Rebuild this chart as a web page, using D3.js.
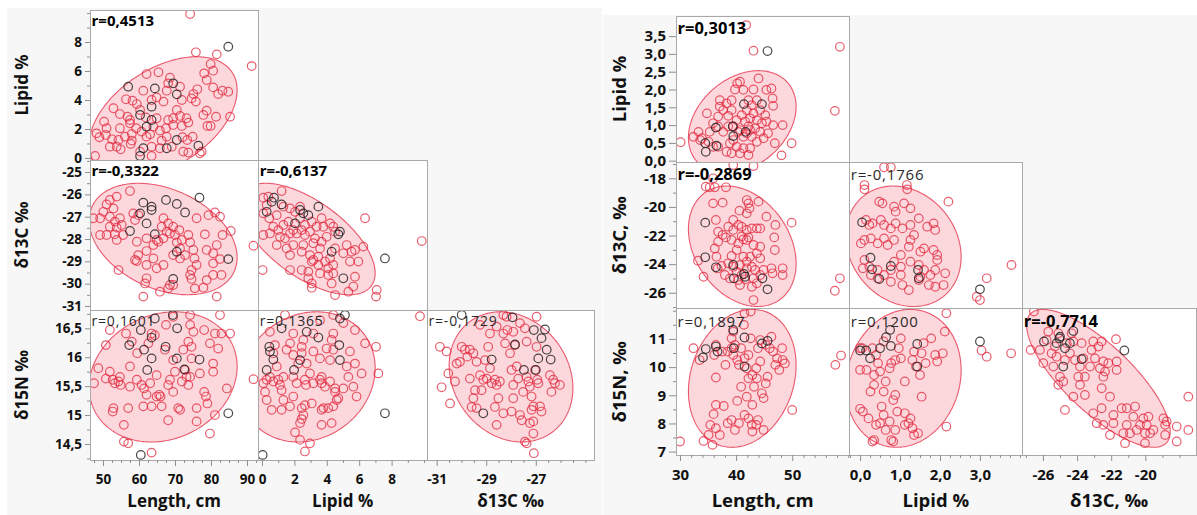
<!DOCTYPE html>
<html>
<head>
<meta charset="utf-8">
<script src="https://cdn.jsdelivr.net/npm/d3@7"></script>
<style>
  body { margin: 0; background: #fff; }
  svg { display: block; }
  text { font-family: "Open Sans", "Noto Sans", sans-serif; }
</style>
</head>
<body>
<svg id="chart" width="1197" height="515"></svg>
<script>
// ---------------------------------------------------------------
// Scatterplot matrices: Length, Lipid, δ13C, δ15N for two samples.
// Each cell: [x, y] pairs; "Dark" arrays are the highlighted fish.
// ---------------------------------------------------------------

// ---- Sample A (left matrix) ----
const aLenLip = [[74.2,9.93],[75.8,7.29],[81.6,7.15],[91.3,6.34],[79.9,6.48],[78.1,5.84],[80.6,6.02],[62.1,5.79],[65.4,5.91],[68.6,5.54],[68.1,5.15],[71.4,4.92],[61.2,4.64],[67.7,4.64],[75.1,4.41],[76.2,4.74],[80.6,4.87],[83.2,4.64],[84.8,4.57],[82.0,4.41],[64.9,4.18],[71.9,4.0],[52.9,3.43],[56.4,4.05],[58.2,3.95],[59.4,3.72],[66.8,3.89],[74.6,4.11],[75.8,3.89],[70.5,3.31],[78.8,3.26],[77.9,2.97],[54.7,3.03],[56.8,2.85],[57.5,2.62],[61.9,2.8],[64.9,2.74],[68.1,2.62],[71.4,2.9],[73.2,2.74],[81.4,2.85],[85.3,2.85],[50.3,2.51],[48.2,1.7],[51.0,2.05],[54.7,2.05],[57.5,2.39],[59.2,2.05],[64.0,2.16],[65.8,1.89],[67.5,2.05],[69.5,2.28],[71.9,2.21],[73.7,2.44],[79.0,2.21],[79.9,2.21],[49.0,1.43],[50.8,1.59],[52.5,1.29],[54.3,1.24],[56.1,1.47],[58.0,1.2],[62.1,1.47],[63.1,1.63],[66.3,1.2],[67.7,1.47],[72.1,1.43],[73.4,1.24],[74.9,1.47],[51.9,0.78],[53.8,0.78],[54.9,0.6],[57.7,0.97],[60.3,0.44],[63.5,0.78],[65.8,0.67],[69.1,0.78],[72.3,0.44],[73.7,0.37],[77.4,0.44],[47.8,0.14],[63.5,0.14],[58.0,1.66],[60.7,1.82],[76.9,0.32],[69.5,2.74],[63.5,4.0],[60.3,3.31],[78.8,5.38]];
const aLenLipDark = [[57.0,4.92],[64.4,4.8],[69.5,5.15],[70.5,4.39],[63.5,3.54],[60.3,2.97],[63.5,2.62],[62.1,2.16],[70.5,1.24],[61.2,0.67],[67.7,0.67],[76.5,0.85],[60.3,0.14],[84.8,7.68]];

const aLenC13 = [[57.5,-25.85],[53.8,-26.10],[51.9,-26.25],[51.0,-26.45],[52.9,-26.63],[50.1,-26.78],[47.3,-27.07],[49.2,-27.07],[51.9,-27.0],[53.3,-27.22],[54.7,-27.07],[55.2,-27.37],[53.8,-27.49],[58.4,-26.85],[58.9,-27.15],[59.8,-26.93],[51.9,-27.45],[53.3,-27.79],[49.2,-27.82],[51.0,-27.82],[53.8,-28.04],[55.6,-27.82],[59.4,-28.12],[62.1,-27.97],[64.0,-28.27],[64.9,-28.04],[58.9,-28.94],[59.4,-28.99],[54.3,-29.39],[62.1,-28.54],[65.4,-28.12],[66.8,-27.97],[66.8,-27.07],[68.1,-27.30],[66.3,-27.45],[67.7,-27.67],[68.6,-27.75],[69.5,-27.45],[70.0,-27.82],[71.2,-27.60],[70.5,-28.15],[71.9,-28.04],[73.7,-27.82],[74.2,-28.15],[71.4,-28.42],[69.5,-28.72],[72.8,-28.72],[71.4,-28.87],[75.1,-28.49],[75.4,-28.87],[76.0,-29.16],[74.6,-29.39],[74.2,-29.61],[74.6,-29.79],[75.5,-30.21],[77.9,-30.18],[78.8,-29.84],[80.6,-29.61],[82.9,-29.61],[80.6,-29.09],[82.5,-28.90],[80.6,-28.64],[78.8,-28.49],[81.6,-28.27],[83.2,-27.82],[85.5,-27.64],[78.3,-27.79],[76.0,-27.07],[79.3,-26.93],[81.1,-26.81],[82.5,-27.0],[91.8,-28.30],[81.6,-30.58],[61.2,-30.58],[62.1,-29.76],[61.7,-29.99],[64.9,-29.31],[66.8,-29.16],[68.6,-30.06],[68.1,-30.21],[69.5,-30.06],[65.8,-30.36],[62.1,-29.16],[59.8,-28.72],[64.0,-28.87]];
const aLenC13Dark = [[61.2,-26.37],[63.5,-26.55],[63.5,-26.70],[60.3,-26.85],[62.1,-27.30],[57.5,-27.64],[64.4,-27.78],[67.5,-26.25],[70.5,-26.43],[72.8,-26.81],[76.8,-26.15],[70.5,-28.57],[84.8,-28.90],[69.5,-29.79]];

const aLipC13 = [[1.21,-25.85],[0.39,-26.10],[0.08,-26.15],[0.04,-29.39],[0.29,-26.48],[0.08,-26.85],[0.45,-27.07],[0.91,-26.93],[1.32,-26.55],[1.73,-26.63],[2.04,-26.78],[2.35,-26.55],[0.70,-27.45],[1.01,-27.60],[1.32,-27.37],[1.63,-27.22],[1.93,-27.60],[2.35,-27.07],[2.65,-27.37],[3.07,-27.22],[3.37,-27.45],[3.68,-27.07],[3.79,-27.45],[4.20,-27.30],[4.40,-27.45],[0.08,-27.82],[0.49,-27.75],[1.11,-27.90],[1.42,-27.97],[1.73,-27.75],[2.14,-27.75],[2.45,-27.60],[2.65,-27.82],[2.96,-27.67],[3.27,-27.97],[3.68,-28.12],[3.99,-27.90],[4.51,-27.67],[0.91,-28.27],[1.52,-28.42],[1.93,-28.27],[2.55,-28.27],[3.17,-28.19],[3.58,-28.42],[1.73,-28.72],[2.45,-28.57],[2.96,-28.72],[3.17,-28.94],[3.48,-28.79],[3.89,-29.01],[4.20,-28.87],[4.40,-29.16],[4.09,-29.31],[3.48,-29.16],[3.07,-29.01],[2.45,-29.39],[2.86,-29.46],[3.58,-29.54],[4.09,-29.61],[4.40,-29.54],[2.86,-29.76],[3.07,-29.99],[3.07,-30.18],[4.30,-29.99],[4.51,-30.51],[5.33,-30.36],[5.64,-30.13],[5.74,-29.69],[5.95,-29.01],[5.53,-28.57],[5.74,-28.49],[6.26,-28.34],[6.36,-27.07],[7.08,-30.28],[7.04,-30.58],[9.86,-28.09],[4.51,-28.42],[5.02,-28.64],[5.23,-28.27],[1.73,-29.39],[5.43,-29.01]];
const aLipC13Dark = [[0.74,-26.15],[0.60,-26.33],[1.21,-26.45],[0.29,-26.78],[2.35,-26.70],[2.55,-26.85],[2.86,-26.93],[3.48,-26.55],[2.04,-27.30],[4.81,-27.67],[4.71,-27.79],[4.30,-28.57],[5.02,-29.76],[7.59,-28.87]];

const aLenN15 = [[47.5,15.55],[48.7,15.81],[50.8,16.21],[50.8,15.63],[51.9,16.47],[51.9,15.75],[52.7,15.61],[52.9,15.12],[52.7,15.06],[53.3,15.55],[54.3,15.58],[54.7,15.66],[54.9,15.52],[55.8,14.83],[55.8,14.54],[57.0,14.51],[57.0,15.12],[57.5,15.49],[57.5,15.84],[58.0,16.27],[56.4,16.41],[59.4,15.61],[59.5,16.07],[60.7,15.52],[61.2,15.15],[61.4,15.46],[62.1,15.35],[63.1,15.55],[63.5,15.15],[62.6,16.24],[63.5,16.41],[64.4,16.38],[64.9,15.69],[64.9,15.32],[66.0,15.32],[65.6,15.35],[66.3,15.15],[67.2,16.13],[67.5,16.56],[68.1,14.91],[68.1,15.52],[68.6,15.61],[69.5,15.40],[69.5,15.95],[70.0,15.75],[70.9,15.12],[71.4,15.09],[71.9,15.58],[72.8,15.78],[73.2,15.66],[73.7,15.52],[74.2,16.73],[74.2,15.66],[73.7,16.27],[74.6,16.18],[74.6,15.98],[76.0,15.12],[76.0,14.89],[76.9,15.72],[78.1,16.47],[78.1,15.40],[78.6,15.32],[79.0,15.20],[79.7,16.24],[80.6,15.89],[80.6,15.75],[81.1,16.41],[81.1,15.00],[79.7,14.68],[82.0,16.15],[82.5,16.73],[82.9,16.41],[84.4,15.46],[85.3,16.41],[91.8,15.62],[69.5,16.70],[63.5,14.35],[74.2,16.56],[75.1,16.44],[72.3,16.13]];
const aLenN15Dark = [[60.5,16.47],[57.3,16.21],[61.4,16.13],[63.5,16.34],[64.4,16.67],[69.4,16.73],[70.6,16.50],[67.4,16.18],[63.5,15.98],[62.3,15.78],[70.5,15.98],[72.6,15.79],[76.8,15.96],[84.8,15.03],[60.5,14.31]];

const aLipN15 = [[0.08,15.55],[0.19,15.40],[0.29,15.61],[0.49,15.66],[0.70,15.58],[0.91,15.84],[1.01,15.61],[1.11,15.52],[1.32,15.66],[1.21,15.43],[0.60,15.09],[1.21,15.09],[1.32,15.26],[0.49,16.44],[0.80,16.21],[0.70,16.07],[1.52,16.13],[1.73,16.24],[1.93,16.04],[2.45,16.18],[2.24,15.89],[2.45,16.07],[1.93,15.66],[1.93,15.32],[1.73,15.15],[2.14,15.55],[2.65,15.61],[2.72,15.52],[2.96,15.72],[3.17,15.55],[3.58,15.61],[3.68,15.66],[3.68,15.55],[3.89,15.49],[4.20,15.58],[4.51,15.46],[4.51,15.40],[4.61,15.26],[4.71,15.29],[4.40,15.15],[4.09,15.12],[3.79,15.12],[3.68,15.09],[3.07,15.20],[2.65,15.17],[2.45,15.12],[2.55,15.00],[2.45,14.93],[2.35,14.86],[2.04,14.70],[2.35,14.57],[2.65,14.37],[2.96,14.51],[3.68,14.83],[4.30,14.86],[5.02,15.46],[5.64,15.49],[5.84,15.32],[6.15,15.72],[5.74,15.89],[5.43,16.10],[5.74,16.47],[5.02,16.59],[4.30,16.30],[3.99,16.15],[3.58,15.98],[4.40,16.41],[6.36,16.24],[7.04,16.18],[7.18,15.72],[4.40,16.13],[3.17,16.41],[2.55,16.30],[1.93,16.41],[3.58,16.64],[4.40,16.73],[3.17,16.10],[2.76,15.89],[4.20,15.95],[1.42,16.73],[5.23,15.84],[5.33,15.66],[0.29,15.26],[9.75,16.71]];
const aLipN15Dark = [[0.04,14.31],[0.45,16.18],[0.49,16.10],[0.70,15.96],[0.29,15.78],[1.21,16.50],[1.98,15.78],[2.35,15.95],[2.76,16.44],[3.48,16.34],[4.81,15.95],[4.77,16.21],[4.81,16.67],[5.12,16.73],[7.59,15.03]];

const aC13N15 = [[-30.87,16.18],[-30.60,16.10],[-30.80,15.48],[-30.46,15.20],[-30.53,15.72],[-30.26,15.58],[-30.19,15.89],[-30.06,15.92],[-29.99,16.18],[-29.86,16.13],[-29.76,16.01],[-29.66,16.13],[-29.52,16.07],[-29.39,15.92],[-29.66,15.63],[-29.45,15.43],[-29.52,15.29],[-29.59,15.14],[-29.39,15.12],[-29.19,15.43],[-29.25,15.69],[-29.12,15.61],[-28.98,15.63],[-29.05,15.95],[-28.92,16.18],[-28.58,16.53],[-28.85,16.41],[-28.78,15.55],[-28.65,15.61],[-28.58,15.52],[-28.51,15.29],[-28.65,15.14],[-28.58,14.83],[-28.31,15.03],[-28.45,15.58],[-28.31,16.41],[-28.24,16.24],[-28.18,16.70],[-28.15,16.47],[-28.04,16.07],[-27.91,16.44],[-27.84,16.21],[-27.98,15.78],[-27.91,15.52],[-27.91,15.29],[-27.98,15.06],[-27.77,15.84],[-27.71,15.63],[-27.64,15.00],[-27.57,14.91],[-27.51,15.40],[-27.44,16.50],[-27.37,16.27],[-27.37,15.66],[-27.30,15.58],[-27.24,15.49],[-27.17,15.32],[-27.17,15.09],[-27.10,15.15],[-27.03,15.78],[-26.97,16.18],[-26.94,15.61],[-26.90,15.55],[-26.83,15.15],[-26.77,15.06],[-27.10,14.89],[-27.10,14.68],[-27.44,14.54],[-27.37,14.51],[-27.08,14.34],[-27.24,14.86],[-26.97,16.70],[-26.43,15.69],[-26.30,15.61],[-26.23,15.55],[-26.03,15.52],[-26.37,15.40],[-27.64,16.59],[-28.31,16.73],[-29.25,16.56],[-28.85,15.81]];
const aC13N15Dark = [[-29.99,16.73],[-27.94,16.69],[-27.08,16.47],[-26.63,16.48],[-26.77,16.33],[-26.56,16.13],[-26.40,15.96],[-27.84,16.22],[-26.90,15.98],[-28.78,15.96],[-27.48,15.78],[-27.00,15.78],[-29.12,15.03]];

// variable order: Length, Lipid, δ13C, δ15N
const aMeans = [66.7, 2.8, -28.0, 15.66];
const aSDs = [8.4, 1.71, 1.02, 0.46];
// correlations: (Len,Lip) (Len,C13) (Lip,C13) (Len,N15) (Lip,N15) (C13,N15)
const aR = [0.4513, -0.3322, -0.6137, 0.1601, 0.1365, -0.1729];
const aSignificant = [true, true, true, false, false, false];

// ---- Sample B (right matrix) ----
const bLenLip = [[41.8,3.81],[43.1,3.09],[58.5,3.20],[57.6,1.40],[30.1,0.52],[49.9,0.49],[48.1,0.15],[48.3,1.00],[46.6,1.00],[46.3,2.03],[46.5,1.75],[46.6,1.54],[44.0,2.31],[43.1,2.00],[40.7,2.22],[40.2,2.17],[39.8,2.00],[39.2,1.70],[38.3,1.61],[37.1,1.52],[37.7,1.42],[36.8,1.24],[34.8,1.33],[35.9,1.05],[33.3,0.81],[32.4,0.67],[33.9,0.63],[35.3,0.81],[36.8,0.96],[37.7,0.81],[38.6,0.96],[40.1,1.14],[41.0,1.28],[41.9,1.42],[42.8,1.56],[43.7,1.70],[44.3,1.42],[45.2,1.28],[45.4,1.10],[44.6,1.05],[43.7,1.14],[43.4,0.91],[42.5,0.86],[41.9,0.77],[41.3,0.67],[40.4,0.81],[39.5,0.58],[38.9,0.49],[40.1,0.39],[41.3,0.35],[42.5,0.35],[43.7,0.53],[44.9,0.63],[45.7,0.77],[46.9,0.49],[42.2,0.16],[40.7,0.21],[39.2,0.21],[38.3,0.25],[36.8,0.39],[35.9,0.39],[35.1,0.53],[37.1,1.70],[39.2,1.42],[42.2,1.70],[41.3,1.99],[42.5,1.19],[41.6,1.10],[39.5,0.96],[40.7,0.86],[42.8,0.67],[44.3,0.81],[43.1,1.33],[42.2,0.96],[45.4,1.99],[38.6,1.26],[33.6,0.58]];
const bLenLipDark = [[34.6,0.25],[34.5,0.49],[36.5,0.42],[36.4,0.93],[39.4,0.96],[39.5,0.69],[41.4,1.59],[44.6,1.59],[45.6,3.08],[41.7,0.81]];

const bLenC13 = [[39.5,-17.07],[43.1,-17.14],[35.9,-18.0],[34.6,-18.58],[35.3,-18.63],[36.2,-18.63],[38.2,-18.63],[35.9,-19.75],[37.6,-19.70],[41.9,-19.52],[42.2,-19.75],[42.4,-20.10],[44.0,-19.63],[41.9,-20.45],[40.6,-20.26],[39.5,-20.91],[36.4,-20.91],[38.6,-21.38],[36.8,-21.73],[37.6,-21.96],[38.2,-22.13],[39.5,-21.61],[40.4,-21.26],[41.0,-21.38],[41.9,-21.61],[42.8,-21.50],[43.7,-21.50],[44.3,-21.50],[45.4,-20.68],[47.0,-21.26],[46.8,-22.13],[46.9,-23.01],[49.9,-21.10],[41.0,-22.06],[41.3,-22.27],[41.9,-22.31],[42.2,-22.13],[40.4,-22.55],[39.2,-22.31],[36.8,-22.43],[36.2,-22.90],[43.1,-22.66],[44.3,-22.78],[40.1,-23.01],[39.2,-23.43],[36.5,-23.48],[41.3,-23.48],[42.5,-23.48],[43.7,-23.24],[44.3,-23.59],[41.9,-23.83],[40.7,-24.06],[38.6,-23.94],[37.4,-24.13],[33.2,-23.76],[34.2,-24.88],[36.7,-24.30],[38.0,-24.76],[39.5,-24.18],[40.1,-24.53],[38.9,-25.0],[42.8,-24.18],[43.4,-24.41],[44.3,-24.76],[44.9,-24.41],[46.3,-24.29],[46.5,-24.64],[48.3,-24.29],[48.3,-24.76],[43.1,-24.99],[43.7,-25.34],[42.8,-25.58],[43.1,-26.51],[40.7,-25.46],[40.4,-25.11],[41.6,-25.06],[57.6,-25.86],[58.5,-24.99],[41.9,-24.29],[41.0,-24.76]];
const bLenC13Dark = [[34.5,-21.10],[34.5,-23.52],[36.4,-24.22],[39.5,-24.06],[39.6,-24.99],[41.4,-24.69],[41.6,-24.88],[44.7,-24.99],[45.6,-25.76]];

const bLipC13 = [[0.60,-17.23],[0.77,-17.23],[0.11,-18.47],[0.11,-18.77],[1.17,-18.47],[1.18,-18.77],[2.21,-19.63],[0.48,-19.63],[0.56,-19.75],[0.85,-19.98],[0.89,-20.33],[1.10,-19.75],[1.26,-20.10],[0.15,-20.91],[0.23,-21.26],[0.31,-21.15],[0.52,-20.91],[0.60,-21.26],[0.77,-21.50],[0.89,-21.15],[1.06,-21.50],[1.26,-21.26],[1.47,-20.80],[1.68,-21.38],[1.84,-21.15],[0.11,-22.31],[0.02,-22.55],[0.27,-22.20],[0.44,-22.55],[0.60,-22.20],[0.69,-22.66],[0.85,-22.31],[1.26,-22.31],[1.35,-21.96],[1.22,-22.78],[1.51,-23.13],[1.60,-22.90],[1.88,-21.61],[1.93,-23.36],[1.93,-23.71],[0.07,-24.29],[0.11,-23.71],[0.23,-24.18],[0.44,-24.41],[0.27,-24.76],[0.44,-24.99],[0.60,-24.76],[0.77,-24.41],[0.85,-23.83],[1.02,-24.18],[1.26,-23.83],[1.47,-24.06],[1.60,-24.41],[1.76,-24.76],[1.88,-24.41],[2.13,-24.64],[2.09,-25.46],[1.88,-25.58],[1.72,-25.46],[1.51,-24.88],[1.22,-25.81],[1.06,-25.46],[0.77,-25.23],[2.92,-26.28],[3.17,-24.99],[3.00,-26.51],[3.79,-24.06],[1.84,-23.01],[1.02,-23.36],[1.47,-25.11],[1.02,-24.76]];
const bLipC13Dark = [[0.05,-21.08],[0.26,-23.55],[0.30,-24.36],[0.48,-25.04],[0.77,-24.13],[1.45,-24.41],[1.47,-24.99],[3.00,-25.76]];

const bLenN15 = [[30.0,7.36],[32.4,10.67],[33.5,10.25],[34.2,7.38],[35.1,7.59],[35.8,7.24],[36.0,8.33],[35.4,7.95],[36.4,10.79],[36.4,9.63],[36.4,7.83],[37.1,7.59],[36.4,8.66],[36.1,10.43],[37.5,10.55],[37.8,8.62],[38.1,10.08],[38.5,8.01],[39.2,8.12],[39.2,10.67],[39.2,11.02],[39.5,10.43],[39.8,10.79],[39.8,7.77],[40.5,8.01],[40.5,10.08],[40.9,10.67],[40.9,9.30],[41.4,11.50],[41.5,11.91],[41.5,8.30],[41.9,8.95],[41.5,10.32],[41.9,9.96],[42.2,10.43],[42.6,11.02],[42.8,7.95],[42.9,7.71],[43.2,9.30],[43.6,9.96],[43.7,9.60],[43.9,8.12],[43.9,10.67],[44.3,10.20],[44.6,9.07],[44.9,8.90],[44.9,7.77],[45.3,9.42],[45.6,9.66],[46.0,10.67],[46.3,11.08],[46.6,10.55],[47.0,10.08],[47.3,10.31],[47.7,9.90],[48.2,10.67],[48.3,10.25],[48.7,10.13],[50.0,8.48],[57.7,10.08],[58.7,10.41],[42.6,11.97],[42.2,8.18],[42.2,9.60],[39.5,11.26],[40.2,10.25],[42.9,9.72],[44.3,10.96],[45.3,10.79],[40.2,8.80],[42.9,8.66],[43.6,7.95],[38.5,10.55]];
const bLenN15Dark = [[34.6,10.64],[34.1,10.34],[36.4,10.73],[36.7,10.55],[39.5,11.32],[39.6,10.67],[41.5,11.05],[41.5,10.02],[44.6,10.84],[45.6,10.93]];

const bLipN15 = [[0.0,10.67],[0.0,8.52],[0.0,9.90],[0.05,10.67],[0.07,8.42],[0.16,9.90],[0.21,8.18],[0.31,10.67],[0.26,9.13],[0.35,9.37],[0.35,9.72],[0.45,10.14],[0.40,10.43],[0.50,9.84],[0.59,10.91],[0.59,9.13],[0.64,9.49],[0.54,8.60],[0.59,8.30],[0.50,8.01],[0.40,7.95],[0.64,7.77],[0.74,8.07],[0.78,7.41],[0.35,7.41],[0.31,7.36],[0.74,9.96],[0.78,10.14],[0.88,10.25],[0.97,10.67],[1.02,11.02],[1.02,10.31],[0.88,7.77],[0.93,8.42],[0.83,8.83],[0.88,9.01],[0.83,7.36],[1.12,8.36],[1.12,7.95],[1.21,8.01],[1.26,8.18],[1.31,7.83],[1.35,7.59],[1.45,7.65],[1.12,9.49],[1.31,10.25],[1.35,10.55],[1.40,10.02],[1.50,9.72],[1.54,10.49],[1.59,10.85],[1.64,10.14],[1.54,8.95],[1.78,11.02],[1.88,10.43],[1.93,10.20],[2.07,10.49],[2.12,11.26],[2.16,11.91],[2.16,7.89],[3.04,10.59],[3.17,10.37],[3.78,10.49]];
const bLipN15Dark = [[0.0,10.59],[0.15,10.59],[0.25,10.31],[0.5,10.67],[0.65,11.06],[0.75,11.32],[0.77,10.75],[1.43,10.82],[1.43,10.02],[3.0,10.91]];

const bC13N15 = [[-26.72,10.61],[-26.53,11.97],[-25.98,10.14],[-25.78,10.96],[-25.69,11.26],[-25.49,10.49],[-25.39,10.02],[-25.30,10.73],[-25.20,10.37],[-25.10,11.20],[-25.00,9.66],[-25.10,9.37],[-24.81,9.49],[-24.71,8.48],[-24.71,10.25],[-24.61,10.85],[-24.42,10.49],[-24.32,11.20],[-24.22,10.91],[-24.12,10.25],[-23.93,9.66],[-23.83,10.02],[-23.73,10.85],[-23.63,10.31],[-23.54,9.01],[-23.24,10.02],[-23.15,10.61],[-23.05,10.91],[-22.95,10.31],[-22.75,10.73],[-22.66,9.96],[-22.56,10.91],[-22.46,10.20],[-22.46,9.66],[-22.56,9.25],[-22.36,9.84],[-22.17,10.14],[-22.56,8.54],[-22.85,8.01],[-22.46,7.95],[-22.07,8.95],[-21.87,8.01],[-21.68,10.20],[-21.68,9.90],[-21.72,10.99],[-21.39,8.54],[-21.09,8.54],[-20.60,8.60],[-21.29,7.65],[-20.90,7.65],[-21.19,7.30],[-21.09,7.95],[-20.70,8.24],[-20.31,7.95],[-20.12,8.18],[-20.02,7.65],[-19.92,7.95],[-19.82,8.24],[-20.02,7.30],[-19.72,7.65],[-18.94,8.18],[-18.84,7.95],[-18.84,7.59],[-18.75,8.07],[-18.16,7.89],[-18.16,7.36],[-17.48,8.95],[-17.48,7.77],[-21.87,8.30],[-22.07,7.59],[-20.51,7.77],[-19.53,7.77],[-24.22,8.95],[-23.05,8.36],[-26.18,10.61],[-23.83,9.37],[-23.54,9.66]];
const bC13N15Dark = [[-25.94,10.91],[-25.20,10.85],[-25.04,11.02],[-25.00,11.08],[-24.81,10.02],[-24.71,10.67],[-24.42,10.85],[-24.22,11.28],[-23.73,10.28],[-21.23,10.59]];

const bMeans = [41.1, 1.085, -22.75, 9.6];
const bSDs = [3.92, 0.59, 1.72, 1.0];
const bR = [0.3013, -0.2869, -0.1766, 0.1897, 0.1200, -0.7714];
const bSignificant = [true, true, false, false, false, true];

// ---- tick labels ----
const aLenTicks = [50, 60, 70, 80, 90];
const aLipTicks = [0, 2, 4, 6, 8];
const aC13TicksX = [-31, -29, -27];
const aC13TicksY = [-25, -26, -27, -28, -29, -30, -31];
const aN15Ticks = [14.5, 15, 15.5, 16, 16.5];
const bLenTicks = [30, 40, 50];
const bLipTicksX = [0, 1, 2, 3];
const bLipTicksY = [0, 0.5, 1, 1.5, 2, 2.5, 3, 3.5];
const bC13TicksX = [-26, -24, -22, -20];
const bC13TicksY = [-18, -20, -22, -24, -26];
const bN15Ticks = [7, 8, 9, 10, 11];

const aTitlesX = ["Length, cm", "Lipid %", "δ13C ‰"];
const aTitlesY = ["Lipid %", "δ13C ‰", "δ15N ‰"];
const bTitlesX = ["Length, cm", "Lipid %", "δ13C, ‰"];
const bTitlesY = ["Lipid %", "δ13C, ‰", "δ15N, ‰"];

// ---------------------------------------------------------------
const svg = d3.select("#chart");
const K95 = Math.sqrt(5.991);          // 95% bivariate normal contour
const comma = d => String(d).replace(".", ",");
const comma1 = d => d3.format(".1f")(d).replace(".", ",");

// panel backgrounds
svg.append("rect").attr("x", 7).attr("y", 8).attr("width", 595).attr("height", 507).attr("fill", "#f7f7f7");
svg.append("rect").attr("x", 603).attr("y", 15).attr("width", 594).attr("height", 500).attr("fill", "#f7f7f7");

const cellOrder = [[0,0],[1,0],[1,1],[2,0],[2,1],[2,2]];   // [row, col]

const matrixA = {
  id: "ma",
  colEdges: [90, 258.3, 427, 594.3],
  rowEdges: [10, 160, 310, 460],
  colDomains: [[46.39, 93.14], [-0.228, 10.185], [-31.39, -24.64]],
  rowDomains: [[-0.14, 10.21], [-31.18, -24.46], [14.222, 16.817]],
  colTicks: [aLenTicks, aLipTicks, aC13TicksX], colMinor: [2.5, 1, 0.5], colFmt: [comma, comma, comma],
  rowTicks: [aLipTicks, aC13TicksY, aN15Ticks], rowMinor: [1, 0.5, 0.25], rowFmt: [comma, comma, comma],
  titlesX: aTitlesX, titlesY: aTitlesY,
  means: aMeans, sds: aSDs, r: aR, sig: aSignificant,
  data: [aLenLip, aLenC13, aLipC13, aLenN15, aLipN15, aC13N15],
  dark: [aLenLipDark, aLenC13Dark, aLipC13Dark, aLenN15Dark, aLipN15Dark, aC13N15Dark],
  fs: { tick: 13.5, title: 17, rBold: 15, rPlain: 14 }, rOffset: 16, yTitleX: 28, ySize: 5
};

const matrixB = {
  id: "mb",
  colEdges: [676, 849.3, 1022.3, 1196],
  rowEdges: [16, 162, 308.5, 455],
  colDomains: [[29.29, 60.18], [-0.27, 4.06], [-27.21, -17.03]],
  rowDomains: [[-0.037, 4.065], [-27.10, -16.86], [6.88, 12.08]],
  colTicks: [bLenTicks, bLipTicksX, bC13TicksX], colMinor: [2, 0.25, 1], colFmt: [comma, comma1, comma],
  rowTicks: [bLipTicksY, bC13TicksY, bN15Ticks], rowMinor: [null, 1, 0.5], rowFmt: [comma1, comma, comma],
  titlesX: bTitlesX, titlesY: bTitlesY,
  means: bMeans, sds: bSDs, r: bR, sig: bSignificant,
  data: [bLenLip, bLenC13, bLipC13, bLenN15, bLipN15, bC13N15],
  dark: [bLenLipDark, bLenC13Dark, bLipC13Dark, bLenN15Dark, bLipN15Dark, bC13N15Dark],
  fs: { tick: 15, title: 18.5, rBold: 16.5, rPlain: 15 }, rOffset: 18, yTitleX: 626, ySize: 7
};

function minorValues(domain, step, majors) {
  if (!step) return [];
  const lo = Math.min(...domain), hi = Math.max(...domain);
  const out = [];
  for (let i = Math.ceil(lo / step - 1e-9); i * step <= hi + 1e-9; i++) {
    const v = +(i * step).toFixed(6);
    if (!majors.some(m => Math.abs(m - v) < 1e-6)) out.push(v);
  }
  return out;
}

function styleAxis(g, fs) {
  g.select(".domain").remove();
  g.selectAll("line").attr("stroke", "#8f8f8f");
  g.selectAll("text").attr("font-size", fs).attr("font-weight", 700).attr("fill", "#111")
    .attr("font-family", '"Open Sans", "Noto Sans", sans-serif');
}

function drawMatrix(m) {
  const xs = m.colDomains.map((d, i) => d3.scaleLinear().domain(d).range([m.colEdges[i], m.colEdges[i + 1]]));
  const ys = m.rowDomains.map((d, i) => d3.scaleLinear().domain(d).range([m.rowEdges[i + 1], m.rowEdges[i]]));
  const root = svg.append("g");
  const defs = root.append("defs");

  cellOrder.forEach(([row, col], k) => {
    const x = xs[col], y = ys[row];
    const x0 = m.colEdges[col], x1 = m.colEdges[col + 1];
    const y0 = m.rowEdges[row], y1 = m.rowEdges[row + 1];
    const clipId = `${m.id}-clip-${k}`;
    defs.append("clipPath").attr("id", clipId)
      .append("rect").attr("x", x0).attr("y", y0).attr("width", x1 - x0).attr("height", y1 - y0);

    root.append("rect").attr("x", x0).attr("y", y0).attr("width", x1 - x0).attr("height", y1 - y0).attr("fill", "#fff");
    const body = root.append("g").attr("clip-path", `url(#${clipId})`);

    // density ellipse from means, SDs and the stated correlation
    const xv = col, yv = row + 1, r = m.r[k];
    const mx = m.means[xv], sx = m.sds[xv], my = m.means[yv], sy = m.sds[yv];
    const ring = d3.range(0, 241).map(i => {
      const t = i / 240 * 2 * Math.PI, u = Math.cos(t), v = Math.sin(t);
      return [x(mx + K95 * sx * u), y(my + K95 * sy * (r * u + Math.sqrt(1 - r * r) * v))];
    });
    body.append("path").attr("d", d3.line()(ring) + "Z")
      .attr("fill", "#f04f66").attr("fill-opacity", 0.22)
      .attr("stroke", "#e8485e").attr("stroke-width", 1.1).attr("stroke-opacity", 0.9);

    body.append("g").selectAll("circle").data(m.data[k]).join("circle")
      .attr("cx", d => x(d[0])).attr("cy", d => y(d[1])).attr("r", 4.3)
      .attr("fill", "none").attr("stroke", "#e1293f").attr("stroke-opacity", 0.75).attr("stroke-width", 1.2);
    body.append("g").selectAll("circle").data(m.dark[k]).join("circle")
      .attr("cx", d => x(d[0])).attr("cy", d => y(d[1])).attr("r", 4.3)
      .attr("fill", "none").attr("stroke", "#1b1b1b").attr("stroke-opacity", 0.8).attr("stroke-width", 1.2);

    root.append("rect").attr("x", x0).attr("y", y0).attr("width", x1 - x0).attr("height", y1 - y0)
      .attr("fill", "none").attr("stroke", "#a9a9a9").attr("stroke-width", 1).attr("shape-rendering", "crispEdges");

    const label = "r=" + comma(r.toFixed(4));
    const t = root.append("text").attr("x", x0 + 1.5).attr("y", y0 + m.rOffset).text(label);
    if (m.sig[k]) t.attr("font-size", m.fs.rBold).attr("font-weight", 700).attr("fill", "#000");
    else t.attr("font-size", m.fs.rPlain).attr("font-weight", 400).attr("fill", "#2a2a2a").attr("letter-spacing", 0.8);
  });

  // left axes (one per row)
  ys.forEach((y, i) => {
    const minor = root.append("g").attr("transform", `translate(${m.colEdges[0]},0)`)
      .call(d3.axisLeft(y).tickValues(minorValues(y.domain(), m.rowMinor[i], m.rowTicks[i])).tickSize(3).tickFormat(""));
    styleAxis(minor, m.fs.tick);
    const major = root.append("g").attr("transform", `translate(${m.colEdges[0]},0)`)
      .call(d3.axisLeft(y).tickValues(m.rowTicks[i]).tickSize(m.ySize).tickPadding(3).tickFormat(m.rowFmt[i]));
    styleAxis(major, m.fs.tick);
    const cy = (m.rowEdges[i] + m.rowEdges[i + 1]) / 2;
    root.append("text").attr("transform", `translate(${m.yTitleX},${cy}) rotate(-90)`)
      .attr("text-anchor", "middle").attr("font-size", m.fs.title).attr("font-weight", 700).attr("fill", "#111")
      .text(m.titlesY[i]);
  });

  // bottom axes (one per column)
  const base = m.rowEdges[3];
  xs.forEach((x, i) => {
    const minor = root.append("g").attr("transform", `translate(0,${base})`)
      .call(d3.axisBottom(x).tickValues(minorValues(x.domain(), m.colMinor[i], m.colTicks[i])).tickSize(3).tickFormat(""));
    styleAxis(minor, m.fs.tick);
    const major = root.append("g").attr("transform", `translate(0,${base})`)
      .call(d3.axisBottom(x).tickValues(m.colTicks[i]).tickSize(6).tickPadding(8).tickFormat(m.colFmt[i]));
    styleAxis(major, m.fs.tick);
    const cx = (m.colEdges[i] + m.colEdges[i + 1]) / 2;
    root.append("text").attr("x", cx).attr("y", 506.5)
      .attr("text-anchor", "middle").attr("font-size", m.fs.title).attr("font-weight", 700).attr("fill", "#111")
      .text(m.titlesX[i]);
  });
}

drawMatrix(matrixA);
drawMatrix(matrixB);
</script>
</body>
</html>
